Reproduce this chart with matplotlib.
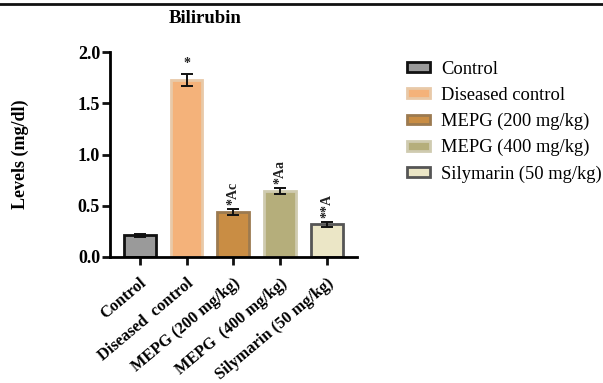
import matplotlib.pyplot as plt
from matplotlib.lines import Line2D

GROUPS = ["Control", "Diseased control", "MEPG (200 mg/kg)",
          "MEPG (400 mg/kg)", "Silymarin (50 mg/kg)"]
TICK_LABELS = ["Control", "Diseased  control", "MEPG (200 mg/kg)",
               "MEPG  (400 mg/kg)", "Silymarin (50 mg/kg)"]
LEVELS = [0.21, 1.73, 0.44, 0.64, 0.32]
SEM = [0.015, 0.06, 0.03, 0.03, 0.025]
MARKS = ["", "*", "*Ac", "*Aa", "**A"]

FILL = ["#9a9a9a", "#f4b27a", "#c98d44", "#b5ae7b", "#ebe6c6"]
EDGE = ["#111111", "#e8c9a8", "#9c7a50", "#cfcbb0", "#555555"]

plt.rcParams["font.family"] = ["Liberation Serif", "DejaVu Serif"]

fig = plt.figure(figsize=(6.03, 3.83), dpi=100)
ax = fig.add_axes([0.182, 0.329, 0.41, 0.535])

x = range(len(GROUPS))
ax.bar(x, LEVELS, width=0.68, color=FILL, edgecolor=EDGE,
       linewidth=2.0, zorder=2)
ax.errorbar(x, LEVELS, yerr=SEM, fmt="none", ecolor="#111111",
            elinewidth=1.4, capsize=4.5, capthick=1.4, zorder=3)

for i, (v, e, m) in enumerate(zip(LEVELS, SEM, MARKS)):
    if not m:
        continue
    ax.text(i, v + e + 0.04, m, rotation=90 if len(m) > 1 else 0,
            ha="center", va="bottom", fontsize=10, fontweight="bold",
            color="#222222")

ax.set_xlim(-0.64, 4.64)
ax.set_ylim(0, 2.0)
ax.set_yticks([0.0, 0.5, 1.0, 1.5, 2.0])
ax.set_yticklabels(["0.0", "0.5", "1.0", "1.5", "2.0"],
                   fontsize=13, fontweight="bold")
ax.set_xticks(list(x))
ax.set_xticklabels(TICK_LABELS, rotation=40, ha="right",
                   rotation_mode="anchor", fontsize=11.8, fontweight="bold")
ax.tick_params(axis="both", width=2, length=6, color="#111111")
ax.tick_params(axis="y", pad=1)
ax.tick_params(axis="x", pad=7)
for side in ("top", "right"):
    ax.spines[side].set_visible(False)
for side in ("left", "bottom"):
    ax.spines[side].set_linewidth(2)
ax.set_ylabel("Levels (mg/dl)", fontsize=13, fontweight="bold")
ax.yaxis.set_label_coords(-0.327, 0.5)

fig.text(0.34, 0.953, "Bilirubin", ha="center", va="center",
         fontsize=13.5, fontweight="bold")

# frame line across the top of the panel
fig.add_artist(Line2D([0, 1], [0.99, 0.99], color="#111111", lw=2,
                      transform=fig.transFigure))

handles = [plt.Rectangle((0, 0), 1, 1, facecolor=f, edgecolor=e, lw=2)
           for f, e in zip(FILL, EDGE)]
fig.legend(handles, GROUPS, loc="upper left", bbox_to_anchor=(0.647, 0.885),
           frameon=False, fontsize=13.3, handlelength=1.24, handleheight=0.42,
           labelspacing=0.49, handletextpad=0.62)

fig.savefig("out.png", dpi=100, facecolor="white")
